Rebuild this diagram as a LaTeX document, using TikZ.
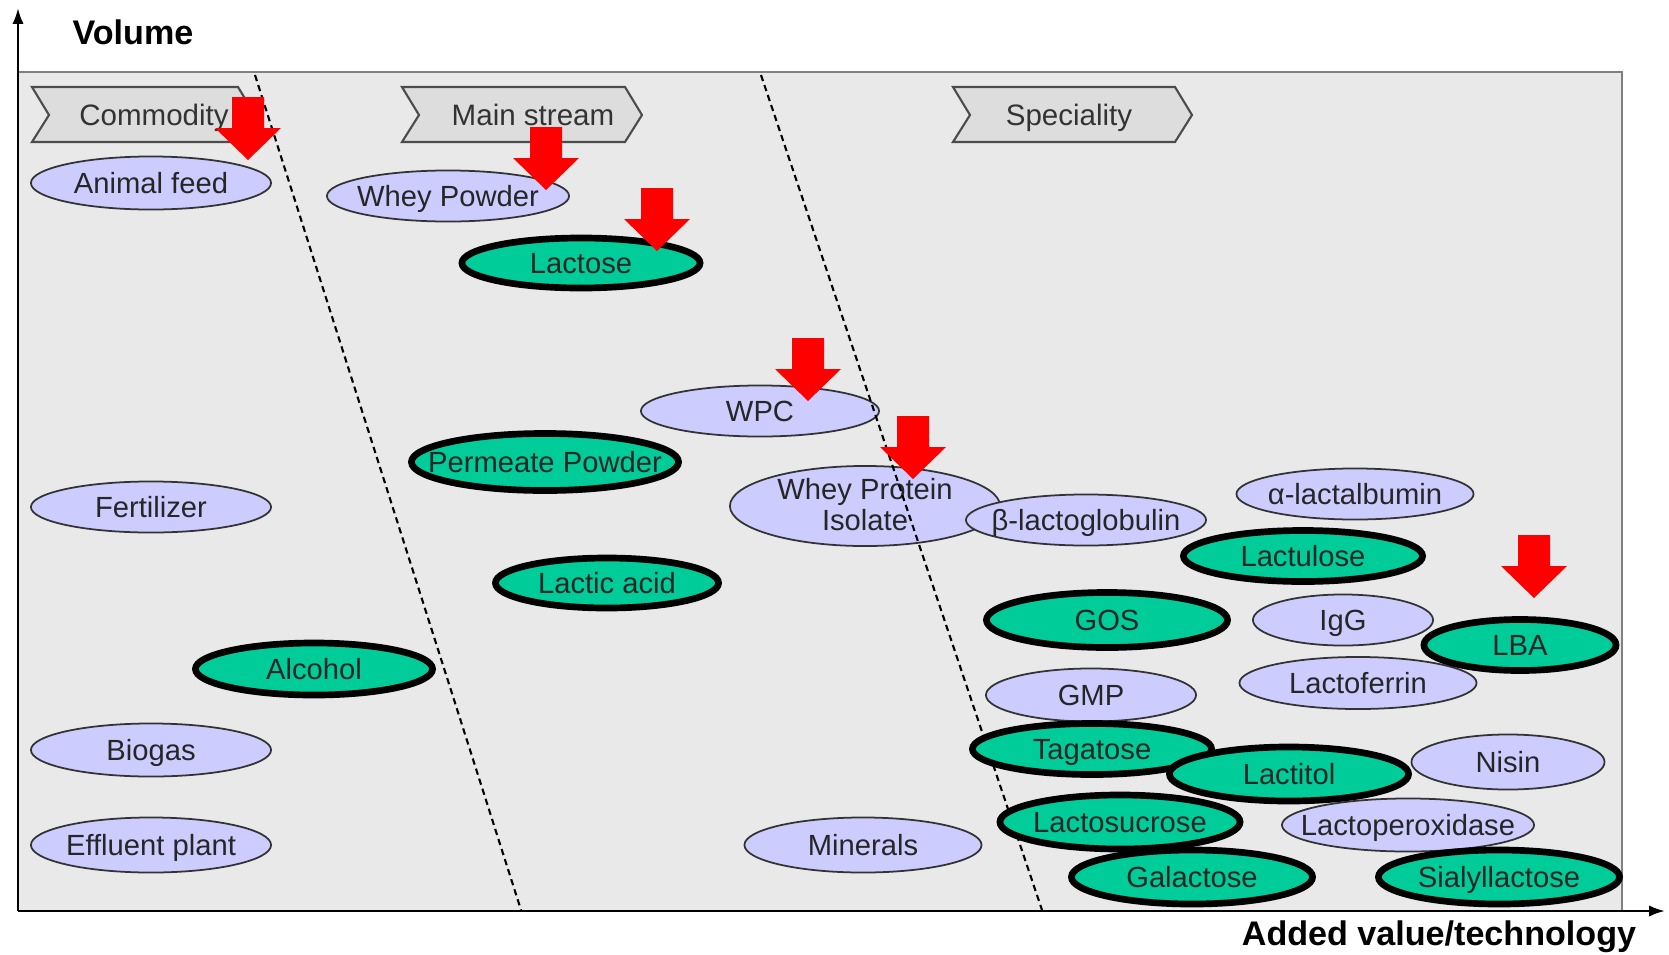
\documentclass[tikz,border=0pt]{standalone}
\usepackage{fontspec}
\setmainfont{Liberation Sans}
\usetikzlibrary{arrows.meta,shapes.geometric}
\definecolor{Lilac}{RGB}{204,204,255}
\definecolor{Mint}{RGB}{0,204,153}
\definecolor{PanelGray}{RGB}{233,233,233}
\definecolor{TagGray}{RGB}{221,221,221}

\begin{document}
\begin{tikzpicture}[x=0.01cm,y=-0.01cm,>={Latex[length=4.5pt,width=3.2pt]},
  font=\fontsize{8.3}{9}\selectfont,
  prod/.style={ellipse,inner xsep=-0.6cm,inner ysep=-0.1cm,text=black!85,
    text height=0.72em,text depth=0.1em},
  lilac/.style={prod,draw=black!80,line width=0.5pt,fill=Lilac},
  mint/.style={prod,draw=black,line width=1.9pt,fill=Mint},
  tag/.style={draw=black!70,fill=TagGray,line width=0.6pt},
  border/.style={dashed,dash pattern=on 1.8pt off 1.2pt,line width=0.6pt},
  drop/.pic={\fill[red] (-16,0) -- (16,0) -- (16,31) -- (33,31) -- (0,63)
    -- (-33,31) -- (-16,31) -- cycle;}]
\useasboundingbox (0,0) rectangle (1669,954);
% panel
\fill[PanelGray] (18,72) rectangle (1622,911);
\draw[black!50,line width=0.8pt] (18,72) -- (1622,72) -- (1622,911);
% market segments
\foreach \l/\r/\tx/\nm/\txt in {32/238/154/comm/Commodity,
    402/625/533/main/Main stream,953/1175/1069/spec/Speciality}{
  \draw[tag] (\l,87) -- (\r,87) -- (\r+17,115) -- (\r,142) -- (\l,142)
    -- (\l+17,115) -- cycle;
  \node[text=black!80,font=\fontsize{8.4}{9}\selectfont,text height=0.72em,
    text depth=0.1em] (tag-\nm) at (\tx,115) {\txt};
}
% existing products
\node[lilac,minimum width=2.40cm,minimum height=0.53cm] (feed) at (151,183) {Animal feed};
\node[lilac,minimum width=2.42cm,minimum height=0.51cm] (powder) at (448,196) {Whey Powder};
\node[lilac,minimum width=2.38cm,minimum height=0.51cm] (wpc) at (760,411) {WPC};
\node[lilac,minimum width=2.40cm,minimum height=0.51cm] (fert) at (151,507) {Fertilizer};
\node[lilac,minimum width=2.70cm,minimum height=0.80cm,align=center,
  text height=15pt,text depth=0.8pt] (wpi) at (865,506) {Whey Protein\\Isolate};
\node[lilac,minimum width=2.40cm,minimum height=0.51cm] (blg) at (1086,520) {β-lactoglobulin};
\node[lilac,minimum width=2.37cm,minimum height=0.51cm] (ala) at (1355,494) {α-lactalbumin};
\node[lilac,minimum width=1.80cm,minimum height=0.51cm] (igg) at (1343,620) {IgG};
\node[lilac,minimum width=2.10cm,minimum height=0.53cm] (gmp) at (1091,695) {GMP};
\node[lilac,minimum width=2.37cm,minimum height=0.52cm] (lf) at (1358,683) {Lactoferrin};
\node[lilac,minimum width=2.40cm,minimum height=0.53cm] (biogas) at (151,750) {Biogas};
\node[lilac,minimum width=1.93cm,minimum height=0.55cm] (nisin) at (1508,762) {Nisin};
\node[lilac,minimum width=2.52cm,minimum height=0.53cm] (lpo) at (1408,825) {Lactoperoxidase};
\node[lilac,minimum width=2.40cm,minimum height=0.55cm] (effl) at (151,845) {Effluent plant};
\node[lilac,minimum width=2.37cm,minimum height=0.55cm] (mins) at (863,845) {Minerals};
% segment borders
\draw[border] (255,75) -- (521,910);
\draw[border] (761,75) -- (1042,910);
% lactose products
\node[mint,minimum width=2.38cm,minimum height=0.50cm] (lactose) at (581,263) {Lactose};
\node[mint,minimum width=2.67cm,minimum height=0.57cm] (perm) at (545,462) {Permeate Powder};
\node[mint,minimum width=2.23cm,minimum height=0.50cm] (lactic) at (607,583) {Lactic acid};
\node[mint,minimum width=2.37cm,minimum height=0.52cm] (alc) at (314,669) {Alcohol};
\node[mint,minimum width=2.39cm,minimum height=0.51cm] (lactulose) at (1303,556) {Lactulose};
\node[mint,minimum width=2.41cm,minimum height=0.55cm] (gos) at (1107,620) {GOS};
\node[mint,minimum width=1.92cm,minimum height=0.51cm] (lba) at (1520,645) {LBA};
\node[mint,minimum width=2.39cm,minimum height=0.51cm] (tagatose) at (1092,749) {Tagatose};
\node[mint,minimum width=2.39cm,minimum height=0.54cm] (lactitol) at (1289,774) {Lactitol};
\node[mint,minimum width=2.40cm,minimum height=0.54cm] (lsuc) at (1120,822) {Lactosucrose};
\node[mint,minimum width=2.41cm,minimum height=0.54cm] (gal) at (1192,877) {Galactose};
\node[mint,minimum width=2.41cm,minimum height=0.54cm] (sial) at (1499,877) {Sialyllactose};
% red markers
\foreach \x/\y in {248/97,546/127,657/188,808/338,913/416,1534/535}
  \pic at (\x,\y) {drop};
% axes
\coordinate (o) at (18,911);
\coordinate (ytop) at (18,8);
\coordinate (xend) at (1665,911);
\draw[->,line width=0.7pt] (o) -- (ytop);
\draw[->,line width=0.7pt] (o) -- (xend);
\node[font=\fontsize{9.7}{11}\selectfont\bfseries] (vol) at (133,32) {Volume};
\node[font=\fontsize{9.7}{11}\selectfont\bfseries] (added) at (1439,937) {Added value/technology};
\end{tikzpicture}
\end{document}
